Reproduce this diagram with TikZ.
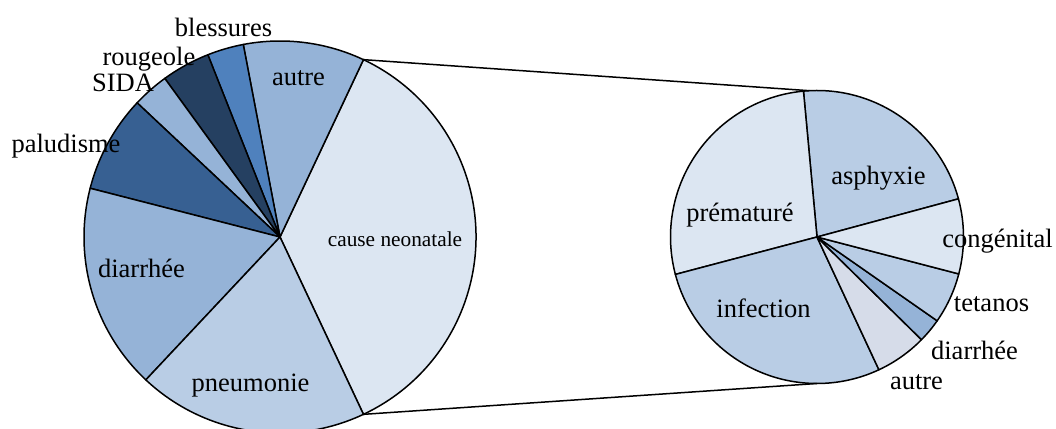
\documentclass[tikz,border=0pt]{standalone}
\usepackage{fontspec}
\setmainfont{Liberation Serif}
\usetikzlibrary{calc}
\definecolor{cMid}{HTML}{95B3D7}
\definecolor{cBlue}{HTML}{4F81BD}
\definecolor{cNavy}{HTML}{254061}
\definecolor{cDark}{HTML}{376092}
\definecolor{cLight}{HTML}{B9CDE5}
\definecolor{cPale}{HTML}{DCE6F2}
\definecolor{cGrey}{HTML}{D6DCE9}
\newcommand\mkslice[5]{%
  \filldraw[slicestyle, fill=#5] (#1) -- ++(#3:#2) arc[start angle=#3, end angle=#4, radius=#2] -- cycle;}
\begin{document}
\begin{tikzpicture}[x=1pt,y=1pt,
  slicestyle/.style={draw=black, line width=1.5pt, line join=round},
  lbl/.style={inner sep=0pt, anchor=base, font=\fontsize{26.5}{30}\selectfont},
  lblsmall/.style={inner sep=0pt, anchor=base, font=\fontsize{21.3}{24}\selectfont},
  link/.style={draw=black, line width=1.5pt}]
\useasboundingbox (0,0) rectangle (1056,428);
\coordinate (big) at (280,191);
\coordinate (small) at (817,191);
% big pie
\mkslice{big}{196}{-64.8}{64.8}{cPale}
\mkslice{big}{196}{64.8}{100.8}{cMid}
\mkslice{big}{196}{100.8}{111.6}{cBlue}
\mkslice{big}{196}{111.6}{126}{cNavy}
\mkslice{big}{196}{126}{136.8}{cMid}
\mkslice{big}{196}{136.8}{165.6}{cDark}
\mkslice{big}{196}{165.6}{226.8}{cMid}
\mkslice{big}{196}{226.8}{295.2}{cLight}
% small pie
\mkslice{small}{146.5}{15.1}{95.3}{cLight}
\mkslice{small}{146.5}{95.3}{194.8}{cPale}
\mkslice{small}{146.5}{194.8}{295}{cLight}
\mkslice{small}{146.5}{295}{315.5}{cGrey}
\mkslice{small}{146.5}{315.5}{325.1}{cMid}
\mkslice{small}{146.5}{325.1}{345.4}{cLight}
\mkslice{small}{146.5}{345.4}{375.1}{cPale}
% connectors
\coordinate (bigtop) at ($(big)+(64.8:196)$);
\coordinate (bigbot) at ($(big)+(-64.8:196)$);
\coordinate (smalltop) at ($(small)+(93:146.5)$);
\coordinate (smallbot) at ($(small)+(-90:146.5)$);
\draw[link] (bigtop) -- (smalltop);
\draw[link] (bigbot) -- (smallbot);
% labels big
\node[lbl] (lblessures) at (223.5,391) {blessures};
\node[lbl] (lrougeole) at (149,362) {rougeole};
\node[lbl] (lsida) at (123,336) {SIDA};
\node[lbl] (lpalu) at (66,275) {paludisme};
\node[lbl] (lautre) at (298.5,342) {autre};
\node[lblsmall] (lcause) at (395,181.5) {cause neonatale};
\node[lbl] (ldiarrhee) at (141.5,150) {diarrhée};
\node[lbl] (lpneumonie) at (250.5,37) {pneumonie};
% labels small
\node[lbl] (lasphyxie) at (878.5,243) {asphyxie};
\node[lbl] (lpremature) at (740,206.5) {prématuré};
\node[lbl] (lcongenital) at (997.5,180) {congénital};
\node[lbl] (linfection) at (763.5,110) {infection};
\node[lbl] (ltetanos) at (991.5,116.5) {tetanos};
\node[lbl] (ldiarrhee2) at (974.5,68) {diarrhée};
\node[lbl] (lautre2) at (916.5,38) {autre};
\end{tikzpicture}
\end{document}
